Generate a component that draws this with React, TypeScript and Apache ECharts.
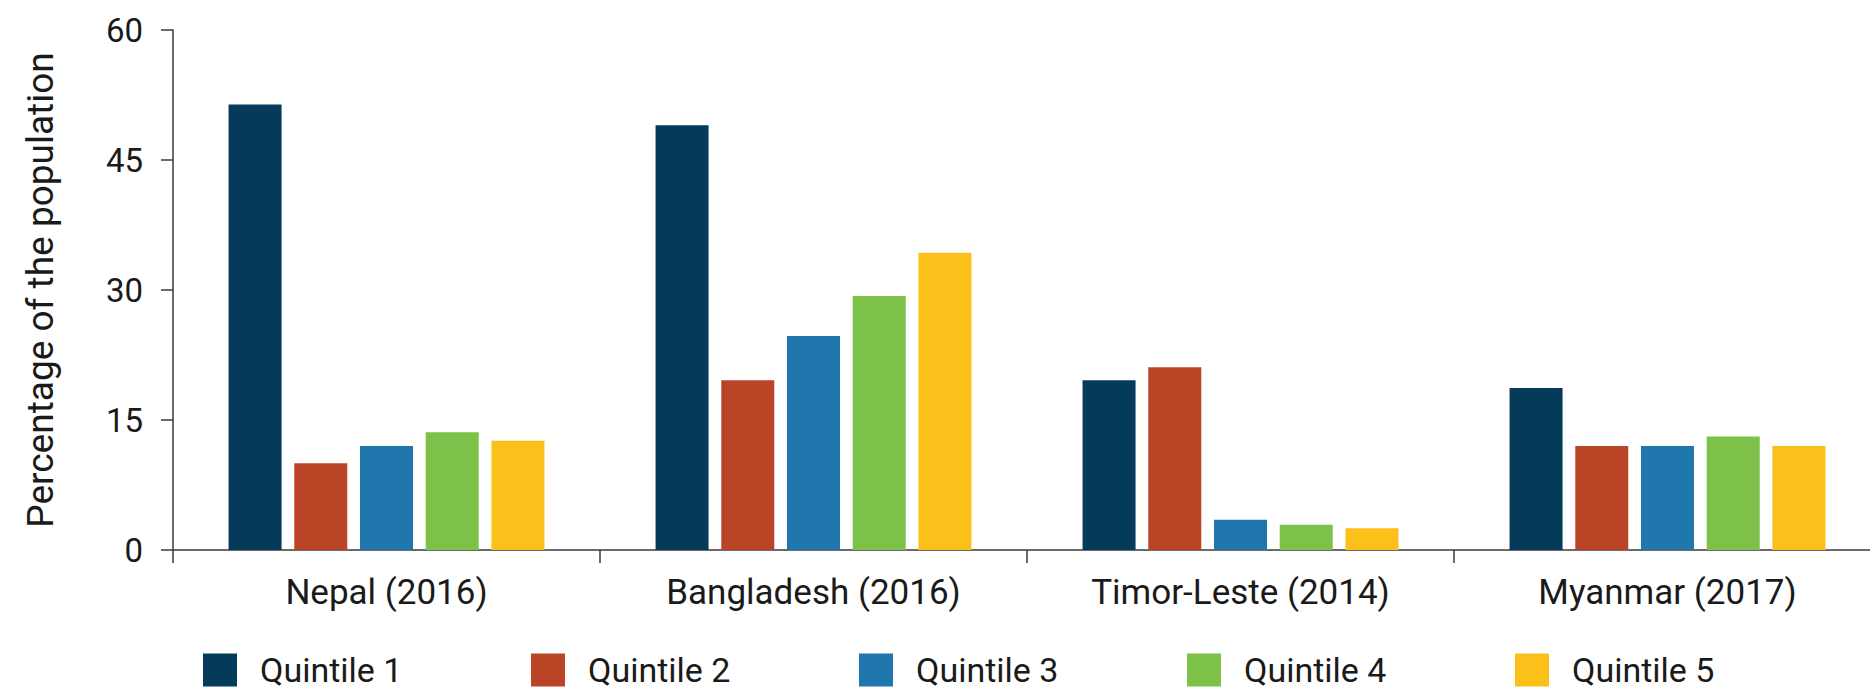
import React, { useEffect, useRef } from "react";
import * as echarts from "echarts";

const categories = ["Nepal (2016)", "Bangladesh (2016)", "Timor-Leste (2014)", "Myanmar (2017)"];
const seriesNames = ["Quintile 1", "Quintile 2", "Quintile 3", "Quintile 4", "Quintile 5"];
const quintile1 = [51.4, 49.0, 19.6, 18.7];
const quintile2 = [10.0, 19.6, 21.1, 12.0];
const quintile3 = [12.0, 24.7, 3.5, 12.0];
const quintile4 = [13.6, 29.3, 2.9, 13.1];
const quintile5 = [12.6, 34.3, 2.5, 12.0];
const colors = ["#053A5A", "#BA4426", "#2077AD", "#7DC148", "#FBC01A"];
const yTicks = [0, 15, 30, 45, 60];

const FONT = "Roboto, 'Noto Sans', sans-serif";

export default function App() {
  const ref = useRef<HTMLDivElement>(null);
  useEffect(() => {
    if (!ref.current) return;
    const chart = echarts.init(ref.current, undefined, { renderer: "svg" });
    const values = [quintile1, quintile2, quintile3, quintile4, quintile5];
    const legendLefts = [203, 531, 859, 1187, 1515];
    chart.setOption({
      animation: false,
      textStyle: { fontFamily: FONT },
      grid: { left: 173, right: 0, top: 30, bottom: 142, containLabel: false },
      legend: seriesNames.map((n, i) => ({
        data: [n],
        left: legendLefts[i],
        top: 653,
        padding: 0,
        icon: "rect",
        itemWidth: 34,
        itemHeight: 33,
        textStyle: {
          fontSize: 34,
          lineHeight: 33,
          color: "#1a1a1a",
          fontFamily: FONT,
          padding: [0, 0, 0, 18],
        },
        selectedMode: false,
      })),
      xAxis: {
        type: "category",
        data: categories,
        axisLine: { show: true, lineStyle: { color: "#3a3a3a", width: 1.5 } },
        axisTick: { show: true, length: 13, interval: 0, lineStyle: { color: "#3a3a3a", width: 1.5 } },
        axisLabel: { fontSize: 35, color: "#1a1a1a", margin: 25, interval: 0, fontFamily: FONT },
      },
      yAxis: {
        type: "value",
        min: yTicks[0],
        max: yTicks[yTicks.length - 1],
        interval: 15,
        name: "Percentage of the population",
        nameLocation: "middle",
        nameGap: 114,
        nameTextStyle: { fontSize: 37, color: "#1a1a1a", fontFamily: FONT },
        axisLine: { show: true, lineStyle: { color: "#3a3a3a", width: 1.5 } },
        axisTick: { show: true, length: 12, lineStyle: { color: "#3a3a3a", width: 1.5 } },
        axisLabel: { fontSize: 33, color: "#1a1a1a", margin: 30, fontFamily: FONT },
        splitLine: { show: false },
      },
      series: seriesNames.map((n, i) => ({
        name: n,
        type: "bar",
        data: values[i],
        barWidth: 53,
        barGap: "24%",
        itemStyle: { color: colors[i] },
      })),
    });
    return () => chart.dispose();
  }, []);
  return (
    <div
      ref={ref}
      style={{ position: "fixed", left: 0, top: 0, width: 1881, height: 692, background: "#fff" }}
    />
  );
}
